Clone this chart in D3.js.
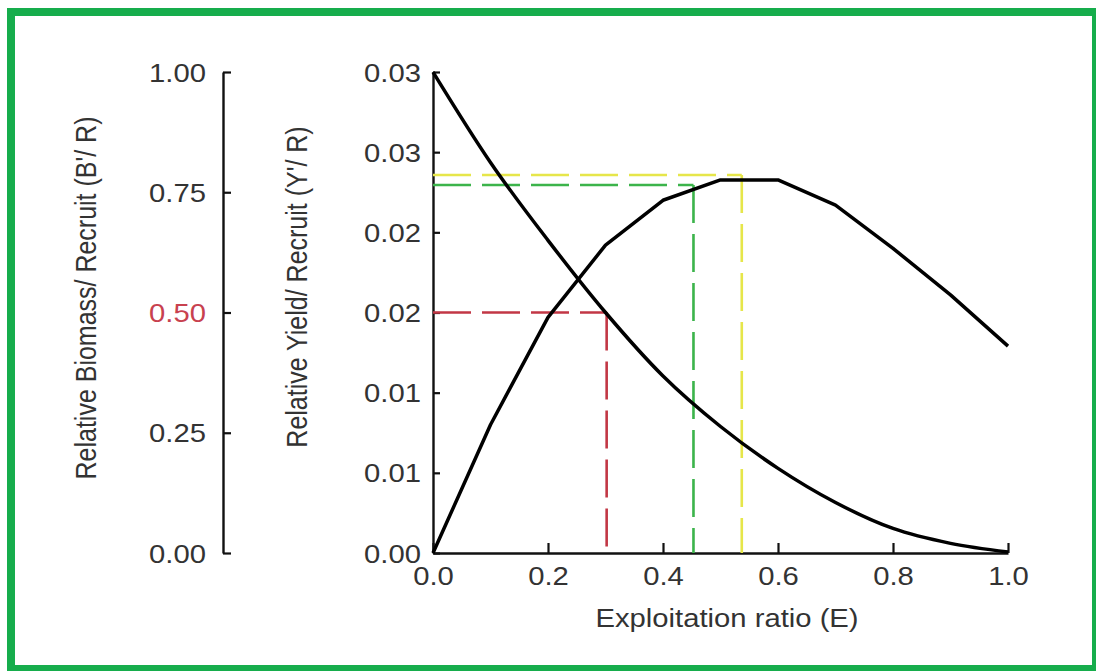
<!DOCTYPE html>
<html>
<head>
<meta charset="utf-8">
<script src="https://cdn.jsdelivr.net/npm/d3@7/dist/d3.min.js"></script>
<style>
  html, body { margin: 0; padding: 0; background: #fff; }
  svg { display: block; }
  text { font-family: "Liberation Sans", Arial, sans-serif; fill: #333; }
</style>
</head>
<body>
<svg id="chart" width="1096" height="671"></svg>
<script>
// Exploitation ratio (E) grid
const exploitation = [0.0, 0.1, 0.2, 0.3, 0.4, 0.5, 0.6, 0.7, 0.8, 0.9, 1.0];
// Relative yield per recruit (Y'/R)
const yieldPerRecruit = [0.0, 0.0080, 0.0147, 0.0192, 0.0220, 0.02327, 0.02327, 0.0217, 0.0190, 0.0161, 0.0129];
// Relative biomass per recruit (B'/R)
const biomassPerRecruit = [1.0, 0.812, 0.650, 0.500, 0.368, 0.263, 0.176, 0.105, 0.051, 0.020, 0.002];

// Reference points: E50, E10, Emax
const refNames = ["E50", "E10", "Emax"];
const refE = [0.302, 0.453, 0.537];
const refYield = [0.015, 0.02295, 0.02358];
const refColors = ["#c23745", "#3cb44b", "#e6e64a"];

// Tick values and labels
const xTicks = [0.0, 0.2, 0.4, 0.6, 0.8, 1.0];
const xTickLabels = ["0.0", "0.2", "0.4", "0.6", "0.8", "1.0"];
const yieldTicks = [0.0, 0.005, 0.01, 0.015, 0.02, 0.025, 0.03];
const yieldTickLabels = ["0.00", "0.01", "0.01", "0.02", "0.02", "0.03", "0.03"];
const biomassTicks = [0.0, 0.25, 0.5, 0.75, 1.0];
const biomassTickLabels = ["0.00", "0.25", "0.50", "0.75", "1.00"];

const svg = d3.select("#chart");
const STRETCH = 1.17;      // horizontal stretch of all lettering
const FONT = 25;

// Frame
svg.append("rect")
  .attr("x", 11).attr("y", 12)
  .attr("width", 1085).attr("height", 657)
  .attr("fill", "none")
  .attr("stroke", "#16ad4c")
  .attr("stroke-width", 8);

// Scales
const x = d3.scaleLinear().domain([0, 1]).range([433, 1008]);
const yY = d3.scaleLinear().domain([0, 0.03]).range([553, 72]);
const yB = d3.scaleLinear().domain([0, 1]).range([553, 72]);

function placeText(sel, tx, ty, rotate) {
  sel.attr("x", null).attr("y", null).attr("dy", null)
     .attr("transform", `translate(${tx},${ty}) scale(${STRETCH},1)` + (rotate ? " rotate(-90)" : ""));
}

// Left axis: biomass per recruit
const axB = svg.append("g")
  .attr("transform", `translate(${x(0) - 210},0)`)
  .call(d3.axisRight(yB).tickValues(biomassTicks).tickSize(8).tickSizeOuter(0)
        .tickFormat((d, i) => biomassTickLabels[i]));
axB.selectAll("text").each(function () {
  const t = d3.select(this);
  t.attr("text-anchor", "end").attr("font-size", FONT).attr("fill", null)
   .style("fill", d => d === 0.5 ? "#c8414f" : "#333");
  placeText(t, -17, 9, false);
});

// Middle axis: yield per recruit
const axY = svg.append("g")
  .attr("transform", `translate(${x(0)},0)`)
  .call(d3.axisRight(yY).tickValues(yieldTicks).tickSize(7).tickSizeOuter(0)
        .tickFormat((d, i) => yieldTickLabels[i]));
axY.selectAll("text").each(function () {
  const t = d3.select(this);
  t.attr("text-anchor", "end").attr("font-size", FONT).attr("fill", null).style("fill", "#333");
  placeText(t, -12, 9, false);
});

// Bottom axis: exploitation ratio
const axX = svg.append("g")
  .attr("transform", `translate(0,${yY(0)})`)
  .call(d3.axisTop(x).tickValues(xTicks).tickSize(10).tickSizeOuter(0)
        .tickFormat((d, i) => xTickLabels[i]));
axX.selectAll("text").each(function () {
  const t = d3.select(this);
  t.attr("text-anchor", "middle").attr("font-size", FONT).attr("fill", null).style("fill", "#333");
  placeText(t, 0, 32, false);
});

[axB, axY, axX].forEach(g => {
  g.attr("font-family", null).attr("font-size", null);
  g.selectAll("path.domain").attr("stroke", "#111").attr("stroke-width", 2.4);
  g.selectAll(".tick line").attr("stroke", "#111").attr("stroke-width", 2.2);
});

// Reference lines (dashed)
const refs = refE.map((e, i) => ({ name: refNames[i], e, v: refYield[i], color: refColors[i] }));
const refG = svg.append("g").attr("fill", "none").attr("stroke-width", 2.6).attr("stroke-dasharray", "38,11");
refG.selectAll("path.h").data(refs).join("path").attr("class", "h")
  .attr("stroke", d => d.color)
  .attr("d", d => d3.line()([[x(0), yY(d.v)], [x(d.e), yY(d.v)]]));
refG.selectAll("path.v").data(refs).join("path").attr("class", "v")
  .attr("stroke", d => d.color)
  .attr("d", d => d3.line()([[x(d.e), yY(d.v)], [x(d.e), yY(0)]]));

// Curves
const yieldLine = d3.line().x((d, i) => x(exploitation[i])).y(d => yY(d));
const biomassLine = d3.line().curve(d3.curveMonotoneX)
  .x((d, i) => x(exploitation[i])).y(d => yB(d));
svg.append("path").datum(biomassPerRecruit)
  .attr("d", biomassLine).attr("fill", "none").attr("stroke", "#000")
  .attr("stroke-width", 3.5).attr("stroke-linejoin", "round");
svg.append("path").datum(yieldPerRecruit)
  .attr("d", yieldLine).attr("fill", "none").attr("stroke", "#000")
  .attr("stroke-width", 3.5).attr("stroke-linejoin", "round");

// Axis titles
placeText(svg.append("text").attr("text-anchor", "middle").attr("font-size", FONT)
  .text("Exploitation ratio (E)"), 727, 627, false);
placeText(svg.append("text").attr("text-anchor", "middle").attr("font-size", FONT)
  .text("Relative Biomass/ Recruit (B'/ R)"), 96, 298, true);
placeText(svg.append("text").attr("text-anchor", "middle").attr("font-size", FONT)
  .text("Relative Yield/ Recruit (Y'/ R)"), 307, 287, true);
</script>
</body>
</html>
